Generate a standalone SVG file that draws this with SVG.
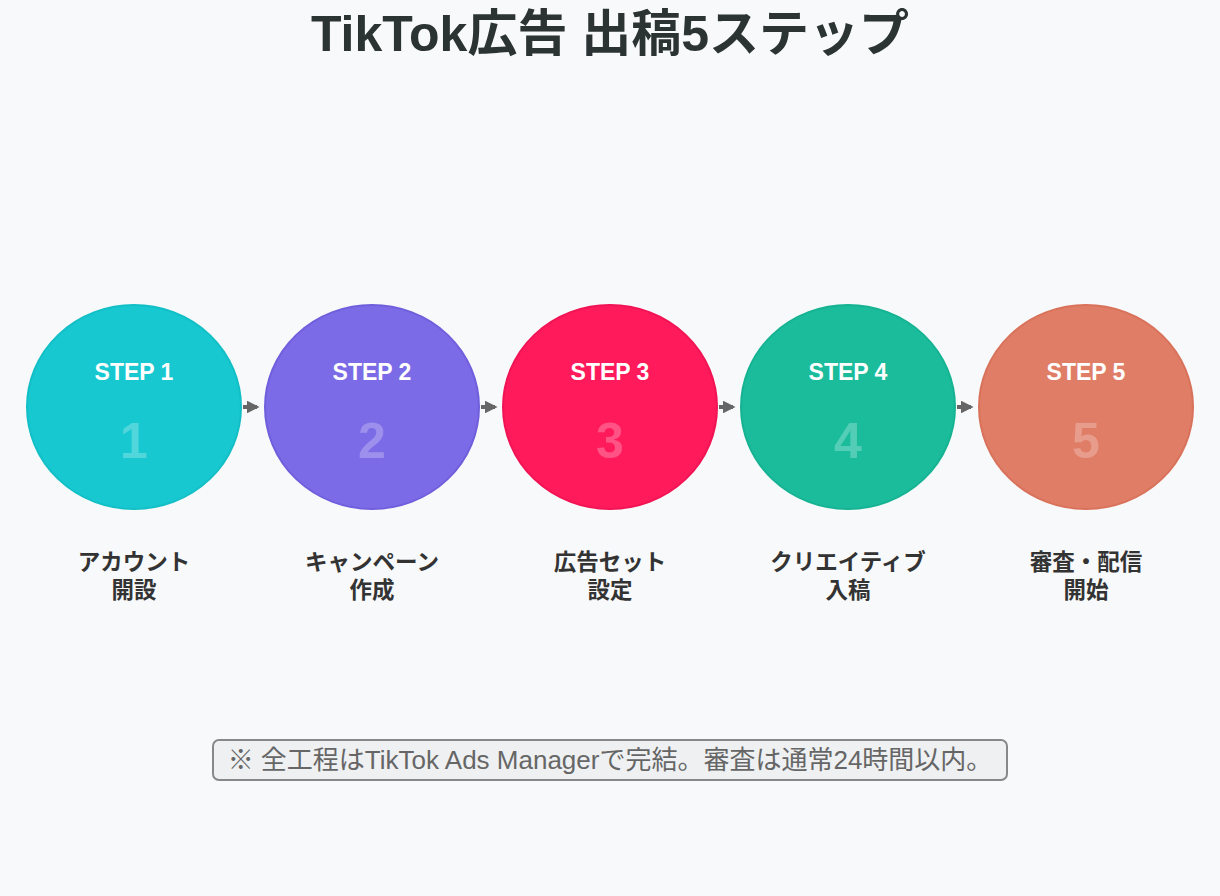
<svg xmlns="http://www.w3.org/2000/svg" width="1220" height="896" viewBox="0 0 1220 896">
<defs>
<marker id="ah" viewBox="0 0 10 10" refX="8" refY="5" markerWidth="3.2" markerHeight="3.2" orient="auto" markerUnits="strokeWidth">
<path d="M0,0 L10,5 L0,10 z" fill="#666"/>
</marker>
<style>
text{font-family:"Liberation Sans","Noto Sans CJK JP",sans-serif;text-anchor:middle}
.title{font-size:50px;font-weight:700;fill:#2b3333}
.step{font-size:23px;font-weight:700;fill:#fff}
.num{font-size:50px;font-weight:700;fill:#fff;fill-opacity:0.25}
.lbl{font-size:22.5px;font-weight:700;fill:#333}
.note{font-size:26px;fill:#666}
.conn{stroke:#666;stroke-width:4;fill:none}
</style>
</defs>
<rect width="1220" height="896" fill="#f8f9fa"/>
<text class="title" x="610" y="51">TikTok広告 出稿5ステップ</text>
<g id="connectors">
<line class="conn" x1="243" y1="407" x2="257" y2="407" marker-end="url(#ah)"/>
<line class="conn" x1="481" y1="407" x2="495" y2="407" marker-end="url(#ah)"/>
<line class="conn" x1="719" y1="407" x2="733" y2="407" marker-end="url(#ah)"/>
<line class="conn" x1="957" y1="407" x2="971" y2="407" marker-end="url(#ah)"/>
</g>
<g id="step1">
<ellipse cx="134" cy="407" rx="107" ry="102" fill="#17C8D0" stroke="#12BFC6" stroke-width="2"/>
<text class="step" x="134" y="380">STEP 1</text>
<text class="num" x="134" y="458">1</text>
<text class="lbl" x="134" y="570">アカウント</text>
<text class="lbl" x="134" y="598">開設</text>
</g>
<g id="step2">
<ellipse cx="372" cy="407" rx="107" ry="102" fill="#7B6BE6" stroke="#6F5FDD" stroke-width="2"/>
<text class="step" x="372" y="380">STEP 2</text>
<text class="num" x="372" y="458">2</text>
<text class="lbl" x="372" y="570">キャンペーン</text>
<text class="lbl" x="372" y="598">作成</text>
</g>
<g id="step3">
<ellipse cx="610" cy="407" rx="107" ry="102" fill="#FF1A5C" stroke="#F01455" stroke-width="2"/>
<text class="step" x="610" y="380">STEP 3</text>
<text class="num" x="610" y="458">3</text>
<text class="lbl" x="610" y="570">広告セット</text>
<text class="lbl" x="610" y="598">設定</text>
</g>
<g id="step4">
<ellipse cx="848" cy="407" rx="107" ry="102" fill="#1ABC9C" stroke="#16B393" stroke-width="2"/>
<text class="step" x="848" y="380">STEP 4</text>
<text class="num" x="848" y="458">4</text>
<text class="lbl" x="848" y="570">クリエイティブ</text>
<text class="lbl" x="848" y="598">入稿</text>
</g>
<g id="step5">
<ellipse cx="1086" cy="407" rx="107" ry="102" fill="#E07D66" stroke="#D9725B" stroke-width="2"/>
<text class="step" x="1086" y="380">STEP 5</text>
<text class="num" x="1086" y="458">5</text>
<text class="lbl" x="1086" y="570">審査・配信</text>
<text class="lbl" x="1086" y="598">開始</text>
</g>
<g id="note">
<rect x="213" y="740" width="794" height="40" rx="6" fill="#eef0f2" stroke="#888" stroke-width="2"/>
<text class="note" x="610" y="769">※ 全工程はTikTok Ads Managerで完結。審査は通常24時間以内。</text>
</g>
</svg>
